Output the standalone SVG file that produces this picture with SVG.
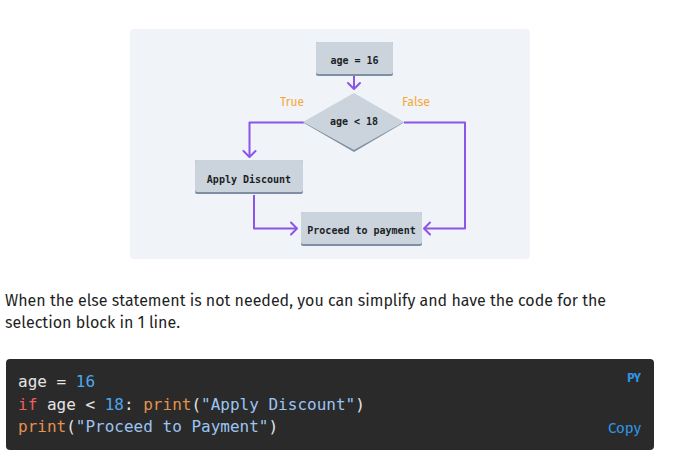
<svg xmlns="http://www.w3.org/2000/svg" width="673" height="469" viewBox="0 0 673 469">
<style>
.box{fill:#cbd3dc}
.shadow{fill:#7f8fa3}
.lbl{font-family:"DejaVu Sans Mono","Liberation Mono",monospace;font-weight:bold;font-size:10px;fill:#1c1f24;text-anchor:middle}
.cond{font-family:"Fira Sans","Open Sans","Noto Sans",sans-serif;font-size:12px;fill:#f5a83a}
.conn{fill:none;stroke:#8a55e8;stroke-width:2;stroke-linejoin:round}
.para{font-family:"Fira Sans","Noto Sans","Open Sans",sans-serif;font-size:16px;fill:#1f1f1f}
.code{font-family:"DejaVu Sans Mono","Liberation Mono",monospace;font-size:16px;fill:#e4e4e4}
.num{fill:#4ea6ec}
.kw{fill:#ec5e5e}
.fn{fill:#e39250}
.str{fill:#9cc4f2}
.ui{font-family:"Fira Sans","Open Sans","Noto Sans",sans-serif;fill:#2f95e6}
</style>
<defs>
<marker id="arr" markerUnits="userSpaceOnUse" markerWidth="16" markerHeight="16" viewBox="-8 -8 16 16" refX="0" refY="0" orient="auto">
<path d="M-6,-6 L0,0 L-6,6" fill="none" stroke="#8a55e8" stroke-width="2" stroke-linecap="round" stroke-linejoin="round"/>
</marker>
</defs>
<rect x="0" y="0" width="673" height="469" fill="#ffffff"/>
<rect x="130" y="29" width="400" height="230" rx="4" fill="#f0f3f7"/>

<g id="connectors">
<path class="conn" d="M354,76 V89" marker-end="url(#arr)"/>
<path class="conn" d="M304,122.5 H249.5 V157" marker-end="url(#arr)"/>
<path class="conn" d="M254,195 V228.5 H297" marker-end="url(#arr)"/>
<path class="conn" d="M404,122.5 H465 V228.5 H424" marker-end="url(#arr)"/>
</g>

<g id="node-start">
<rect class="shadow" x="316" y="42" width="77" height="34" rx="2"/>
<rect class="box" x="316" y="42" width="77" height="32" rx="2"/>
<text class="lbl" x="354.5" y="64">age = 16</text>
</g>

<g id="node-decision">
<polygon class="shadow" points="303,122.5 354,95 404,122.5 354,152"/>
<polygon class="box" points="303,122 354,93 404,122 354,150"/>
<text class="lbl" x="354" y="124.5">age &lt; 18</text>
<text class="cond" x="280" y="106" textLength="24" lengthAdjust="spacingAndGlyphs">True</text>
<text class="cond" x="402" y="106" textLength="28" lengthAdjust="spacingAndGlyphs">False</text>
</g>

<g id="node-discount">
<rect class="shadow" x="195" y="160" width="108" height="34" rx="2"/>
<rect class="box" x="195" y="160" width="108" height="32" rx="2"/>
<text class="lbl" x="249" y="182.5">Apply Discount</text>
</g>

<g id="node-payment">
<rect class="shadow" x="301" y="212" width="121" height="34" rx="2"/>
<rect class="box" x="301" y="212" width="121" height="32" rx="2"/>
<text class="lbl" x="361.5" y="234">Proceed to payment</text>
</g>

<text class="para" x="5" y="306" textLength="601" lengthAdjust="spacingAndGlyphs">When the else statement is not needed, you can simplify and have the code for the</text>
<text class="para" x="5" y="328" textLength="175" lengthAdjust="spacingAndGlyphs">selection block in 1 line.</text>

<rect x="6" y="359" width="648" height="91" rx="4" fill="#2a2a2a"/>
<text class="code" x="18" y="387">age = <tspan class="num">16</tspan></text>
<text class="code" x="18" y="410"><tspan class="kw">if</tspan> age &lt; <tspan class="num">18</tspan>: <tspan class="fn">print</tspan>(<tspan class="str">"Apply Discount"</tspan>)</text>
<text class="code" x="18" y="432"><tspan class="fn">print</tspan>(<tspan class="str">"Proceed to Payment"</tspan>)</text>
<text class="ui" x="641" y="382" font-size="12" font-weight="bold" text-anchor="end">PY</text>
<text class="ui" x="641" y="433" font-size="14" text-anchor="end" textLength="33" lengthAdjust="spacingAndGlyphs">Copy</text>
</svg>
